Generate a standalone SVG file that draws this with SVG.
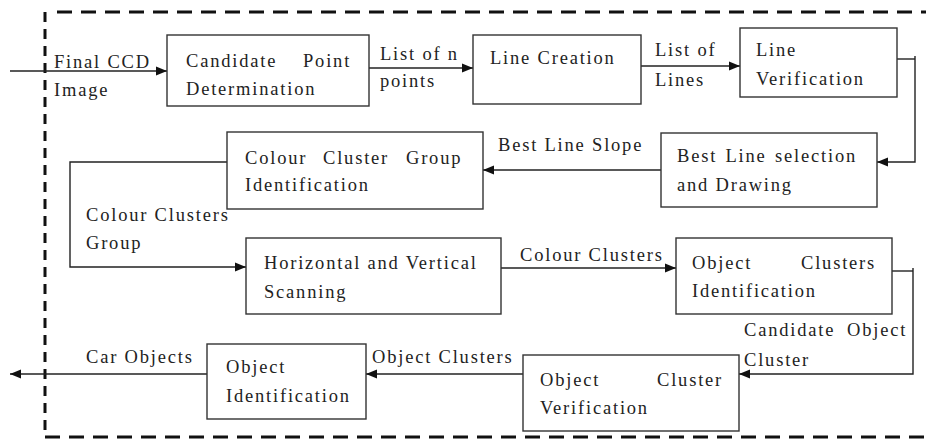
<svg xmlns="http://www.w3.org/2000/svg" width="926" height="439" viewBox="0 0 926 439">
<style>
.box{fill:#fff;stroke:#333;stroke-width:1.4}
.t{font-family:'Liberation Serif','DejaVu Serif','Times New Roman',serif;font-size:18.5px;letter-spacing:1.8px;fill:#222}
.c{fill:none;stroke:#222;stroke-width:1.4}
.dash{fill:none;stroke:#111;stroke-width:3}
</style>
<defs>
<marker id="ah" markerUnits="userSpaceOnUse" markerWidth="12" markerHeight="10" refX="11" refY="5" orient="auto">
<path d="M0,0.5 L11,5 L0,9.5 Z" fill="#111"/>
</marker>
</defs>
<g id="border">
<line class="dash" x1="57" y1="12" x2="926" y2="12" stroke-dasharray="15 9"/>
<line class="dash" x1="45" y1="12" x2="45" y2="437" stroke-dasharray="10 7"/>
<line class="dash" x1="45" y1="437" x2="926" y2="437" stroke-dasharray="15 9"/>
</g>
<g id="connectors">
<line class="c" x1="10" y1="71" x2="167" y2="71" marker-end="url(#ah)"/>
<line class="c" x1="369" y1="68" x2="473" y2="68" marker-end="url(#ah)"/>
<line class="c" x1="641" y1="66" x2="740" y2="66" marker-end="url(#ah)"/>
<polyline class="c" points="897,59 915,59"/>
<polyline class="c" points="915,56 915,162 877,162" marker-end="url(#ah)"/>
<line class="c" x1="661" y1="170" x2="483" y2="170" marker-end="url(#ah)"/>
<polyline class="c" points="227,162 70,162 70,267 246,267" marker-end="url(#ah)"/>
<line class="c" x1="501" y1="268" x2="676" y2="268" marker-end="url(#ah)"/>
<polyline class="c" points="892,271 913,271"/>
<polyline class="c" points="913,268 913,374 739,374" marker-end="url(#ah)"/>
<line class="c" x1="523" y1="374" x2="366" y2="374" marker-end="url(#ah)"/>
<line class="c" x1="207" y1="374" x2="10" y2="374" marker-end="url(#ah)"/>
</g>
<g id="edge-labels">
<text class="t" x="54" y="68">Final CCD</text>
<text class="t" x="54" y="96">Image</text>
<text class="t" x="380" y="60">List of n</text>
<text class="t" x="380" y="87">points</text>
<text class="t" x="655" y="56">List of</text>
<text class="t" x="655" y="86">Lines</text>
<text class="t" x="498" y="151">Best Line Slope</text>
<text class="t" x="86" y="221">Colour Clusters</text>
<text class="t" x="86" y="249">Group</text>
<text class="t" x="520" y="261">Colour Clusters</text>
<text class="t" x="744" y="336">Candidate</text>
<text class="t" x="847" y="336">Object</text>
<text class="t" x="744" y="366">Cluster</text>
<text class="t" x="372" y="363">Object Clusters</text>
<text class="t" x="86" y="363">Car Objects</text>
</g>
<g id="n1">
<rect class="box" x="167" y="35" width="202" height="71"/>
<text class="t" x="186" y="67">Candidate</text>
<text class="t" x="303" y="67">Point</text>
<text class="t" x="186" y="95">Determination</text>
</g>
<g id="n2">
<rect class="box" x="473" y="35" width="168" height="69"/>
<text class="t" x="490" y="64">Line Creation</text>
</g>
<g id="n3">
<rect class="box" x="740" y="28" width="157" height="69"/>
<text class="t" x="756" y="56">Line</text>
<text class="t" x="756" y="85">Verification</text>
</g>
<g id="n4">
<rect class="box" x="661" y="133" width="216" height="74"/>
<text class="t" x="677" y="162" word-spacing="2">Best Line selection</text>
<text class="t" x="677" y="191">and Drawing</text>
</g>
<g id="n5">
<rect class="box" x="227" y="132" width="256" height="77"/>
<text class="t" x="245" y="164">Colour</text>
<text class="t" x="323" y="164">Cluster</text>
<text class="t" x="406" y="164">Group</text>
<text class="t" x="245" y="191">Identification</text>
</g>
<g id="n6">
<rect class="box" x="246" y="238" width="255" height="76"/>
<text class="t" x="264" y="269">Horizontal and Vertical</text>
<text class="t" x="264" y="298">Scanning</text>
</g>
<g id="n7">
<rect class="box" x="676" y="238" width="216" height="76"/>
<text class="t" x="692" y="269">Object</text>
<text class="t" x="801" y="269">Clusters</text>
<text class="t" x="692" y="297">Identification</text>
</g>
<g id="n8">
<rect class="box" x="523" y="355" width="216" height="76"/>
<text class="t" x="540" y="386">Object</text>
<text class="t" x="657" y="386">Cluster</text>
<text class="t" x="540" y="414">Verification</text>
</g>
<g id="n9">
<rect class="box" x="207" y="344" width="159" height="75"/>
<text class="t" x="226" y="373">Object</text>
<text class="t" x="226" y="402">Identification</text>
</g>
</svg>
